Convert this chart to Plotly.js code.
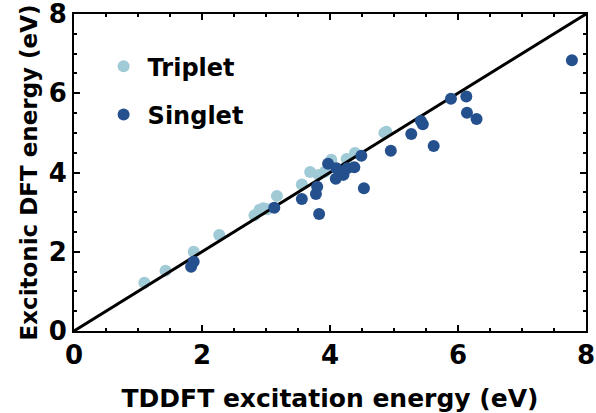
<!DOCTYPE html>
<html>
<head>
<meta charset="utf-8">
<script src="https://cdn.plot.ly/plotly-3.0.1.min.js"></script>
<style>html,body{margin:0;padding:0;background:#fff;}#chart{width:596px;height:413px;}</style>
</head>
<body>
<div id="chart"></div>
<script>
// Triplet excitations: TDDFT (x) vs excitonic DFT (y), eV
const tripletX = [1.10, 1.43, 1.87, 2.27, 2.82, 2.90, 2.96, 3.02, 3.17, 3.56, 3.69, 3.82, 3.92, 4.02, 4.26, 4.39, 4.85, 4.88];
const tripletY = [1.22, 1.52, 2.00, 2.42, 2.92, 3.06, 3.10, 3.07, 3.41, 3.70, 4.01, 3.94, 4.02, 4.32, 4.34, 4.49, 5.00, 5.03];
// Singlet excitations
const singletX = [1.83, 1.87, 3.13, 3.56, 3.78, 3.80, 3.83, 3.97, 4.10, 4.09, 4.21, 4.27, 4.38, 4.49, 4.53, 4.95, 5.27, 5.42, 5.45, 5.62, 5.89, 6.13, 6.14, 6.29, 7.78];
const singletY = [1.62, 1.75, 3.11, 3.33, 3.46, 3.64, 2.95, 4.22, 4.11, 3.84, 3.94, 4.11, 4.13, 4.42, 3.60, 4.55, 4.97, 5.30, 5.22, 4.67, 5.86, 5.92, 5.51, 5.35, 6.83];
// y = x reference line
const diagX = [0, 8];
const diagY = [0, 8];

const FONT = 'DejaVu Sans, sans-serif';
const traces = [
  {x: tripletX, y: tripletY, type: 'scatter', mode: 'markers', name: 'Triplet',
   legendgroup: 'a', marker: {color: '#9fcad6', size: 12}},
  {x: diagX, y: diagY, type: 'scatter', mode: 'lines', showlegend: false,
   line: {color: '#000', width: 3}, hoverinfo: 'skip'},
  {x: singletX, y: singletY, type: 'scatter', mode: 'markers', name: 'Singlet',
   legendgroup: 'b', marker: {color: '#25508e', size: 12}}
];
const axisCommon = {
  range: [0, 8], dtick: 2, tick0: 0, showgrid: false, zeroline: false,
  showline: true, linecolor: '#000', linewidth: 2, mirror: 'allticks',
  ticks: 'inside', ticklen: 6, tickwidth: 2, tickcolor: '#000',
  ticklabeloverflow: 'allow',
  minor: {dtick: 0.5, ticks: 'inside', ticklen: 3, tickwidth: 2, tickcolor: '#000', showgrid: false},
  tickfont: {family: FONT, size: 26, color: '#000', weight: 'bold'}
};
const layout = {
  width: 596, height: 413,
  margin: {l: 74, r: 10, t: 14, b: 82},
  paper_bgcolor: '#fff', plot_bgcolor: '#fff',
  xaxis: Object.assign({}, axisCommon, {
    title: {text: 'TDDFT excitation energy (eV)', standoff: 20,
            font: {family: FONT, size: 25, color: '#000', weight: 'bold'}}
  }),
  yaxis: Object.assign({}, axisCommon, {
    title: {text: 'Excitonic DFT energy (eV)', standoff: 5,
            font: {family: FONT, size: 23, color: '#000', weight: 'bold'}}
  }),
  showlegend: true,
  legend: {x: 0.05, y: 0.905, xanchor: 'left', yanchor: 'top', bgcolor: 'rgba(0,0,0,0)',
           itemwidth: 38, tracegroupgap: 14, traceorder: 'grouped',
           font: {family: FONT, size: 24, color: '#000', weight: 'bold'}}
};
Plotly.newPlot('chart', traces, layout, {displayModeBar: false, staticPlot: true});
</script>
</body>
</html>
